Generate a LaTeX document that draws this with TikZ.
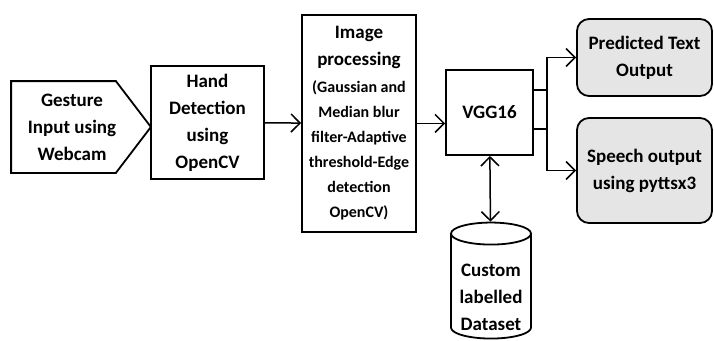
\documentclass[tikz,border=0pt]{standalone}
\usepackage{fontspec}
\setmainfont{Carlito}
\usetikzlibrary{arrows.meta,shapes.geometric}
\newcommand{\detailfont}{\fontsize{16}{23}\selectfont}
\begin{document}
\begin{tikzpicture}[x=1pt,y=-1pt,
    >={Straight Barb[length=9pt,width=18pt]},
    box/.style={draw, line width=1.8pt, rectangle, align=center, inner sep=2pt,
        font=\bfseries\fontsize{19}{27}\selectfont, text=black},
    outbox/.style={box, rounded corners=12pt, fill=black!10},
    link/.style={line width=1.5pt}]
    \useasboundingbox (0,0) rectangle (714,340);
    \node[box, draw=none, minimum width=120pt, minimum height=90pt] (gest) at (72,127) {Gesture\\Input using\\Webcam};
    \draw[line width=1.8pt] (gest.north west) -- ([xshift=-17pt]gest.north east) -- ([xshift=18pt]gest.east)
        -- ([xshift=-17pt]gest.south east) -- (gest.south west) -- cycle;
    \node[box, minimum width=113pt, minimum height=113pt] (hand) at (207.5,122.5) {Hand\\Detection\\using\\OpenCV};
    \node[box, minimum width=114pt, minimum height=217pt, anchor=north] (img) at (359,14) {Image\\processing\\\detailfont(Gaussian and\\[-2pt]\detailfont Median blur\\[-2pt]\detailfont filter-Adaptive\\[-2pt]\detailfont threshold-Edge\\[-2pt]\detailfont detection\\[-2pt]\detailfont OpenCV)};
    \node[box, minimum width=87pt, minimum height=85pt] (vgg) at (489.5,112.5) {VGG16};
    \node[outbox, minimum width=135pt, minimum height=77pt] (pred) at (644.5,57.5) {Predicted Text\\Output};
    \node[outbox, minimum width=135pt, minimum height=105pt] (speech) at (644.5,170.5) {Speech output\\using pyttsx3};
    \node[box, cylinder, shape border rotate=90, aspect=0.35, minimum width=80pt, minimum height=116pt, inner xsep=0pt, inner ysep=-7pt] (data) at (491,286.5) {\rule{0pt}{34pt}Custom\\labelled\\Dataset};
    \draw[link, ->] (hand) -- (img);
    \draw[link, ->] (img.east) -- (img.east -| vgg.west);
    \draw[link, ->] ([yshift=-16.5pt]vgg.east) -- ++(13,0) |- (pred.west);
    \draw[link, ->] ([yshift=22.5pt]vgg.east) -- ++(13,0) |- (speech.west);
    \draw[link, <->] (vgg) -- (data);
\end{tikzpicture}
\end{document}
